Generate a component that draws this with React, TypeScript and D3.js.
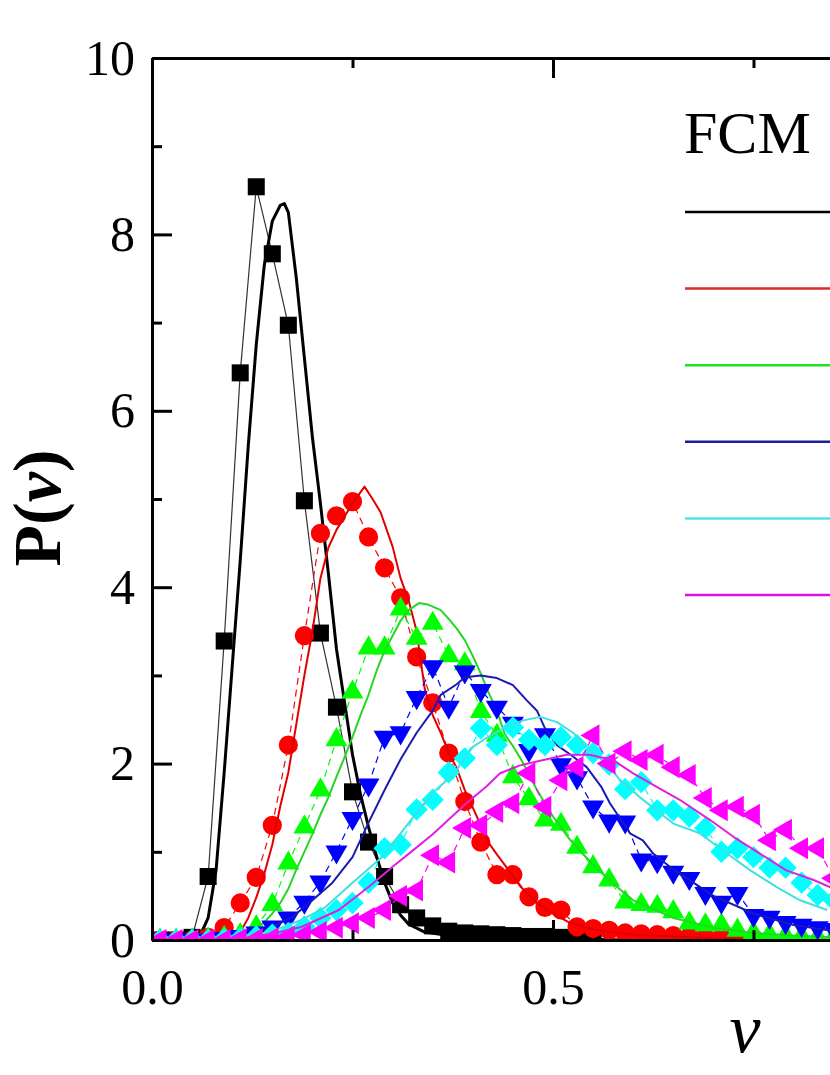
import { useEffect, useRef } from "react";
import * as d3 from "d3";

// bin centres shared by every measured series
const V_BINS = [
  0.01, 0.03, 0.05, 0.07, 0.09, 0.11, 0.13, 0.15, 0.17, 0.19,
  0.21, 0.23, 0.25, 0.27, 0.29, 0.31, 0.33, 0.35, 0.37, 0.39,
  0.41, 0.43, 0.45, 0.47, 0.49, 0.51, 0.53, 0.55, 0.57, 0.59,
  0.61, 0.63, 0.65, 0.67, 0.69, 0.71, 0.73, 0.75, 0.77, 0.79,
  0.81, 0.83, 0.85,
];

// measured P(v) (markers)
const DATA_BLACK = [
  0, 0, 0.03, 0.72, 3.39, 6.43, 8.54, 7.78, 6.97, 4.98,
  3.48, 2.64, 1.68, 1.11, 0.72, 0.4, 0.25, 0.16, 0.1, 0.08,
  0.07, 0.06, 0.05, 0.04, 0.04, 0.03, 0.03, 0.02,
];
const DATA_RED = [
  0, 0, 0, 0.03, 0.14, 0.42, 0.71, 1.3, 2.21, 3.45,
  4.61, 4.81, 4.97, 4.57, 4.22, 3.88, 3.21, 2.69, 2.12, 1.57,
  1.11, 0.74, 0.74, 0.49, 0.37, 0.34, 0.15, 0.13, 0.11, 0.08,
  0.07, 0.06, 0.05, 0.04, 0.03, 0.03, 0.02, 0.02,
];
const DATA_GREEN = [
  0, 0, 0, 0.01, 0.03, 0.06, 0.15, 0.4, 0.87, 1.28,
  1.7, 2.27, 2.81, 3.31, 3.31, 3.75, 3.42, 3.59, 3.22, 3.13,
  2.59, 2.32, 1.85, 1.6, 1.36, 1.31, 1.05, 0.83, 0.68, 0.43,
  0.4, 0.38, 0.32, 0.19, 0.17, 0.17, 0.11, 0.08, 0.06, 0.05,
  0.04, 0.03, 0.03,
];
const DATA_BLUE = [
  0, 0, 0, 0, 0.02, 0.04, 0.08, 0.15, 0.25, 0.43,
  0.66, 1.0, 1.38, 1.76, 2.3, 2.35, 2.75, 3.1, 2.64, 3.04,
  2.83, 2.64, 2.46, 2.15, 2.33, 1.99, 1.84, 1.51, 1.35, 1.34,
  0.91, 0.89, 0.77, 0.7, 0.53, 0.43, 0.53, 0.28, 0.26, 0.2,
  0.17, 0.14, 0.12,
];
const DATA_CYAN = [
  0, 0, 0, 0, 0.01, 0.02, 0.04, 0.06, 0.08, 0.15,
  0.25, 0.34, 0.42, 0.65, 1.04, 1.08, 1.48, 1.59, 1.9, 2.06,
  2.4, 2.21, 2.41, 2.27, 2.21, 2.3, 2.21, 2.12, 1.99, 1.71,
  1.79, 1.47, 1.47, 1.4, 1.27, 1.0, 1.04, 0.94, 0.82, 0.82,
  0.65, 0.51, 0.45,
];
const DATA_MAGENTA = [
  0, 0, 0, 0, 0, 0.01, 0.01, 0.02, 0.04, 0.06,
  0.09, 0.14, 0.19, 0.25, 0.34, 0.5, 0.56, 0.96, 0.88, 1.27,
  1.3, 1.45, 1.55, 1.89, 1.51, 1.81, 1.96, 2.32, 2.0, 2.14,
  2.04, 2.1, 1.96, 1.87, 1.61, 1.47, 1.51, 1.42, 1.13, 1.25,
  1.04, 1.04, 0.7,
];

// FCM model curves, [v, P(v)]
const FCM_BLACK: [number, number][] = [
  [0.05, 0], [0.06, 0.05], [0.07, 0.25], [0.08, 0.8], [0.09, 1.9], [0.1, 3.1],
  [0.11, 4.3], [0.12, 5.6], [0.13, 6.75], [0.14, 7.65], [0.15, 8.15], [0.16, 8.33],
  [0.165, 8.35], [0.17, 8.25], [0.18, 7.5], [0.19, 6.6], [0.2, 5.7], [0.21, 4.95],
  [0.22, 4.15], [0.23, 3.3], [0.24, 2.7], [0.25, 2.1], [0.26, 1.65], [0.27, 1.28],
  [0.28, 0.95], [0.29, 0.65], [0.3, 0.42], [0.31, 0.28], [0.32, 0.18], [0.34, 0.09],
  [0.37, 0.05], [0.42, 0.03], [0.5, 0.01], [0.6, 0],
];
const FCM_RED: [number, number][] = [
  [0.08, 0], [0.1, 0.03], [0.11, 0.09], [0.12, 0.25], [0.13, 0.48], [0.14, 0.75],
  [0.15, 1.08], [0.16, 1.52], [0.17, 1.9], [0.18, 2.45], [0.19, 3.0], [0.2, 3.5],
  [0.21, 4.1], [0.22, 4.45], [0.23, 4.65], [0.24, 4.8], [0.25, 4.95], [0.265, 5.14],
  [0.275, 5.0], [0.285, 4.85], [0.3, 4.46], [0.31, 4.1], [0.32, 3.85], [0.33, 3.5],
  [0.34, 2.85], [0.35, 2.55], [0.36, 2.35], [0.37, 2.12], [0.38, 1.95], [0.39, 1.7],
  [0.4, 1.5], [0.41, 1.3], [0.42, 1.1], [0.43, 0.97], [0.44, 0.85], [0.46, 0.6],
  [0.48, 0.42], [0.5, 0.3], [0.52, 0.2], [0.55, 0.12], [0.6, 0.06], [0.7, 0.02],
  [0.8, 0.01],
];
const FCM_GREEN: [number, number][] = [
  [0.08, 0], [0.1, 0.03], [0.12, 0.08], [0.14, 0.2], [0.15, 0.3], [0.16, 0.42],
  [0.17, 0.58], [0.18, 0.8], [0.19, 1.0], [0.2, 1.2], [0.21, 1.42], [0.22, 1.62],
  [0.23, 1.85], [0.24, 2.07], [0.25, 2.3], [0.26, 2.55], [0.27, 2.78], [0.28, 3.05],
  [0.29, 3.28], [0.3, 3.45], [0.31, 3.62], [0.32, 3.74], [0.333, 3.82], [0.345, 3.8],
  [0.36, 3.74], [0.37, 3.64], [0.38, 3.53], [0.39, 3.4], [0.4, 3.22], [0.41, 3.02],
  [0.42, 2.8], [0.43, 2.6], [0.44, 2.33], [0.45, 2.2], [0.46, 2.05], [0.47, 1.88],
  [0.48, 1.7], [0.49, 1.55], [0.5, 1.4], [0.52, 1.15], [0.55, 0.85], [0.58, 0.6],
  [0.6, 0.45], [0.65, 0.25], [0.7, 0.14], [0.75, 0.08], [0.8, 0.05], [0.85, 0.03],
];
const FCM_BLUE: [number, number][] = [
  [0.08, 0], [0.1, 0.03], [0.12, 0.06], [0.15, 0.15], [0.175, 0.26], [0.2, 0.45],
  [0.225, 0.65], [0.25, 0.94], [0.27, 1.33], [0.29, 1.7], [0.31, 2.05], [0.33, 2.35],
  [0.35, 2.6], [0.36, 2.78], [0.38, 2.9], [0.39, 2.98], [0.41, 3.0], [0.43, 2.97],
  [0.45, 2.89], [0.467, 2.72], [0.48, 2.6], [0.49, 2.4], [0.505, 2.21], [0.525, 2.08],
  [0.542, 1.96], [0.56, 1.74], [0.571, 1.55], [0.596, 1.21], [0.612, 1.13], [0.625, 0.98],
  [0.65, 0.8], [0.7, 0.5], [0.75, 0.3], [0.8, 0.17], [0.85, 0.1],
];
const FCM_CYAN: [number, number][] = [
  [0.08, 0], [0.1, 0.02], [0.12, 0.04], [0.15, 0.1], [0.187, 0.23], [0.216, 0.37],
  [0.25, 0.65], [0.287, 0.94], [0.316, 1.28], [0.35, 1.67], [0.375, 1.87], [0.4, 2.19],
  [0.417, 2.29], [0.442, 2.42], [0.463, 2.49], [0.484, 2.53], [0.505, 2.47], [0.525, 2.35],
  [0.546, 2.15], [0.567, 2.0], [0.584, 1.81], [0.608, 1.62], [0.65, 1.32], [0.683, 1.21],
  [0.717, 0.98], [0.746, 0.79], [0.779, 0.6], [0.808, 0.45], [0.842, 0.34],
];
const FCM_MAGENTA: [number, number][] = [
  [0.08, 0], [0.1, 0.01], [0.12, 0.03], [0.15, 0.07], [0.187, 0.15], [0.233, 0.34],
  [0.27, 0.6], [0.3, 0.83], [0.33, 1.05], [0.35, 1.2], [0.392, 1.55], [0.417, 1.74],
  [0.434, 1.89], [0.459, 1.98], [0.488, 2.04], [0.517, 2.1], [0.545, 2.1], [0.575, 2.04],
  [0.6, 1.89], [0.625, 1.76], [0.658, 1.59], [0.696, 1.36], [0.725, 1.17], [0.758, 0.98],
  [0.791, 0.79], [0.825, 0.68], [0.85, 0.58],
];

const Y_MAJOR = [0, 2, 4, 6, 8, 10];
const Y_MINOR = [1, 3, 5, 7, 9];
const X_MAJOR = [0, 0.5];
const X_MINOR = [0.25, 0.75];

type Shape = "square" | "circle" | "up" | "down" | "diamond" | "left";

const SERIES: {
  data: number[];
  fcm: [number, number][];
  shape: Shape;
  marker: string;
  line: string;
  legend: string;
  fcmWidth: number;
}[] = [
  { data: DATA_BLACK, fcm: FCM_BLACK, shape: "square", marker: "#000000", line: "#000000", legend: "#000000", fcmWidth: 3 },
  { data: DATA_RED, fcm: FCM_RED, shape: "circle", marker: "#ff0000", line: "#e00000", legend: "#dc2a2a", fcmWidth: 2 },
  { data: DATA_GREEN, fcm: FCM_GREEN, shape: "up", marker: "#00ff00", line: "#22d822", legend: "#22e022", fcmWidth: 2 },
  { data: DATA_BLUE, fcm: FCM_BLUE, shape: "down", marker: "#0000ff", line: "#1a1ab4", legend: "#1c1c9c", fcmWidth: 2 },
  { data: DATA_CYAN, fcm: FCM_CYAN, shape: "diamond", marker: "#00ffff", line: "#40e0e0", legend: "#50e4e4", fcmWidth: 2 },
  { data: DATA_MAGENTA, fcm: FCM_MAGENTA, shape: "left", marker: "#ff00ff", line: "#e020e0", legend: "#e010e0", fcmWidth: 2 },
];

const FONT = "'Liberation Serif', 'Times New Roman', serif";

export default function App() {
  const ref = useRef<SVGSVGElement>(null);

  useEffect(() => {
    if (!ref.current) return;
    const el = ref.current;
    d3.select(el).selectAll("*").remove();

    const width = 830;
    const height = 1075;
    const left = 152;
    const top = 58;
    const bottom = 940;

    const x = d3.scaleLinear().domain([0, 1]).range([left, left + 802]);
    const y = d3.scaleLinear().domain([0, 10]).range([bottom, top]);

    const svg = d3.select(el).attr("width", width).attr("height", height);

    const clip = svg.append("clipPath").attr("id", "plot-clip");
    clip.append("rect").attr("x", left).attr("y", top).attr("width", 900).attr("height", bottom - top + 2);

    const plot = svg.append("g").attr("clip-path", "url(#plot-clip)");

    const lineGen = d3
      .line<[number, number]>()
      .x((d) => x(d[0]))
      .y((d) => y(d[1]));

    const symbolFor = (shape: Shape) => {
      switch (shape) {
        case "square":
          return { path: d3.symbol(d3.symbolSquare, 290)()!, rot: 0 };
        case "circle":
          return { path: d3.symbol(d3.symbolCircle, 290)()!, rot: 0 };
        case "up":
          return { path: d3.symbol(d3.symbolTriangle, 210)()!, rot: 0 };
        case "down":
          return { path: d3.symbol(d3.symbolTriangle, 210)()!, rot: 180 };
        case "left":
          return { path: d3.symbol(d3.symbolTriangle, 210)()!, rot: -90 };
        default:
          return { path: d3.symbol(d3.symbolSquare, 250)()!, rot: 45 };
      }
    };

    SERIES.forEach((s) => {
      const pts: [number, number][] = s.data.map((p, i) => [V_BINS[i], p]);

      // thin connector through measured points
      plot
        .append("path")
        .attr("d", lineGen(pts))
        .attr("fill", "none")
        .attr("stroke", s.marker === "#000000" ? "#333" : s.marker)
        .attr("stroke-width", 1.2)
        .attr("stroke-dasharray", s.marker === "#000000" ? null : "7,5");

      const sym = symbolFor(s.shape);
      plot
        .selectAll(null)
        .data(pts)
        .join("path")
        .attr("d", sym.path)
        .attr("transform", (d) => `translate(${x(d[0])},${y(d[1])}) rotate(${sym.rot})`)
        .attr("fill", s.marker);

      // FCM curve
      plot
        .append("path")
        .attr("d", lineGen(s.fcm))
        .attr("fill", "none")
        .attr("stroke", s.line)
        .attr("stroke-width", s.fcmWidth)
        .attr("stroke-linejoin", "round");
    });

    // Axes
    const styleAxis = (g: d3.Selection<SVGGElement, unknown, null, undefined>) => {
      g.select(".domain").attr("stroke-width", 3);
      g.selectAll(".tick line").attr("stroke-width", 3);
      g.selectAll("text").style("font-family", FONT).style("font-size", "50px").attr("fill", "#000");
    };

    svg
      .append("g")
      .attr("transform", `translate(${left},0)`)
      .call(d3.axisLeft(y).tickValues(Y_MAJOR).tickSize(-20).tickSizeOuter(0).tickPadding(17).tickFormat(d3.format("d")))
      .call(styleAxis);
    svg
      .append("g")
      .attr("transform", `translate(${left},0)`)
      .call(d3.axisLeft(y).tickValues(Y_MINOR).tickSize(-10).tickSizeOuter(0).tickFormat(() => ""))
      .call(styleAxis);

    svg
      .append("g")
      .attr("transform", `translate(0,${bottom})`)
      .call(d3.axisBottom(x).tickValues(X_MAJOR).tickSize(-20).tickSizeOuter(0).tickPadding(28).tickFormat(d3.format(".1f")))
      .call(styleAxis);
    svg
      .append("g")
      .attr("transform", `translate(0,${bottom})`)
      .call(d3.axisBottom(x).tickValues(X_MINOR).tickSize(-10).tickSizeOuter(0).tickFormat(() => ""))
      .call(styleAxis);

    svg
      .append("g")
      .attr("transform", `translate(0,${top})`)
      .call(d3.axisTop(x).tickValues(X_MAJOR).tickSize(-20).tickSizeOuter(0).tickFormat(() => ""))
      .call(styleAxis);
    svg
      .append("g")
      .attr("transform", `translate(0,${top})`)
      .call(d3.axisTop(x).tickValues(X_MINOR).tickSize(-10).tickSizeOuter(0).tickFormat(() => ""))
      .call(styleAxis);

    // Axis titles
    const yl = svg
      .append("text")
      .attr("transform", `translate(60,508) rotate(-90)`)
      .attr("text-anchor", "middle")
      .style("font-family", FONT)
      .style("font-size", "68px")
      .style("font-weight", "bold");
    yl.append("tspan").text("P(");
    yl.append("tspan").style("font-style", "italic").text("v");
    yl.append("tspan").text(")");

    svg
      .append("text")
      .attr("x", 745)
      .attr("y", 1052)
      .attr("text-anchor", "middle")
      .style("font-family", FONT)
      .style("font-size", "70px")
      .style("font-style", "italic")
      .text("v");

    // Legend
    svg
      .append("text")
      .attr("x", 684)
      .attr("y", 153)
      .style("font-family", FONT)
      .style("font-size", "60px")
      .text("FCM");

    SERIES.forEach((s, i) => {
      svg
        .append("line")
        .attr("x1", 685)
        .attr("x2", 900)
        .attr("y1", 212 + i * 76.6)
        .attr("y2", 212 + i * 76.6)
        .attr("stroke", s.legend)
        .attr("stroke-width", 2.5);
    });
  }, []);

  return (
    <svg
      ref={ref}
      style={{ position: "absolute", left: 0, top: 0, background: "#fff" }}
      width={830}
      height={1075}
    />
  );
}
